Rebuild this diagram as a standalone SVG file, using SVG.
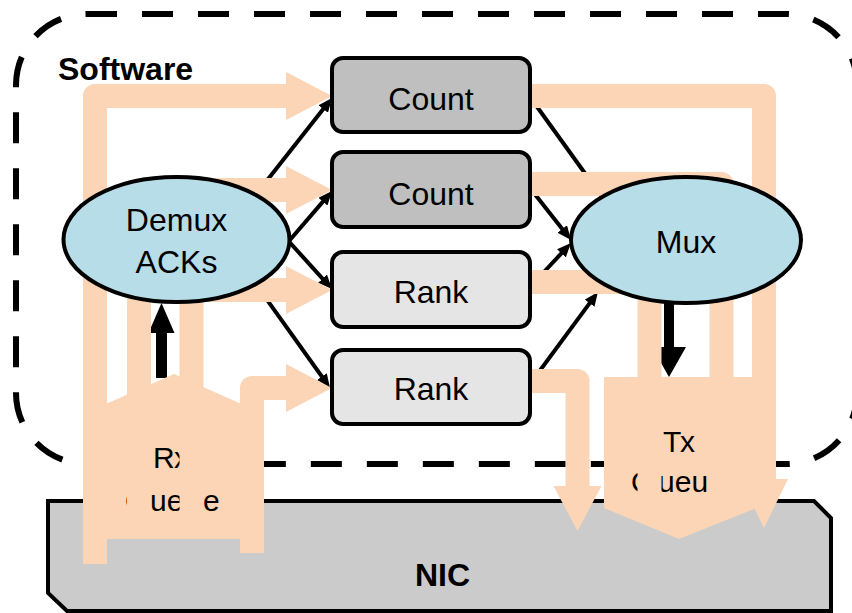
<svg xmlns="http://www.w3.org/2000/svg" width="852" height="613" viewBox="0 0 852 613">
  <defs>
    <style>
      .border{fill:none;stroke:#000;stroke-width:6;stroke-dasharray:31 25}
      .nic{fill:#cbcbcb;stroke:#000;stroke-width:4}
      .box{stroke:#000;stroke-width:4}
      .count{fill:#bfbfbf}
      .rank{fill:#e5e5e5}
      .ell{fill:#b7dde8;stroke:#000;stroke-width:4}
      .txt{font-family:"Liberation Sans",Arial,sans-serif;font-size:32px;fill:#000}
      .mid{text-anchor:middle}
      .ql{font-size:30px}
      .bold{font-weight:bold}
      .link{fill:none;stroke:#000;stroke-width:4}
      .thick{fill:#000}
      .flow{fill:none;stroke:#fbd5b5;stroke-width:24;stroke-linejoin:round}
      .flowfill{fill:#fbd5b5}
    </style>
    <marker id="ah" markerUnits="userSpaceOnUse" viewBox="0 0 14 12" markerWidth="14" markerHeight="12" refX="6" refY="6" orient="auto">
      <path d="M0,0 L14,6 L0,12 z" fill="#000"/>
    </marker>
  </defs>
  <rect width="852" height="613" fill="#fff"/>

  <!-- software region: dashed rounded outline, drawn in two runs -->
  <g id="software">
    <path class="border" stroke-dashoffset="1" d="M87,14 H786 A71,71 0 0 1 857,85 V393"/>
    <path class="border" stroke-dashoffset="4.5" d="M857,393 A71,71 0 0 1 786,464 H87 A71,71 0 0 1 16,393 V85 A71,71 0 0 1 87,14"/>
    <text class="txt bold" x="58" y="80">Software</text>
  </g>

  <!-- NIC -->
  <g id="nic">
    <polygon class="nic" points="48,501 814,501 831,518 831,611 67,611 48,593"/>
    <text class="txt bold mid" x="442.5" y="586" font-size="30">NIC</text>
  </g>

  <!-- control connectors -->
  <g id="connectors">
    <line class="link" x1="250" y1="202" x2="327" y2="104.3" marker-end="url(#ah)"/>
    <line class="link" x1="283" y1="248" x2="326.8" y2="197.1" marker-end="url(#ah)"/>
    <line class="link" x1="283" y1="235" x2="326.6" y2="283.1" marker-end="url(#ah)"/>
    <line class="link" x1="250" y1="276" x2="325.4" y2="381.5" marker-end="url(#ah)"/>
    <line class="link" x1="530" y1="97" x2="615" y2="215"/>
    <line class="link" x1="530" y1="188" x2="566" y2="233.7" marker-end="url(#ah)"/>
    <line class="link" x1="530" y1="287" x2="565.5" y2="248.9" marker-end="url(#ah)"/>
    <line class="link" x1="530" y1="384" x2="593.2" y2="298.4" marker-end="url(#ah)"/>
    <!-- queue to/from ellipse arrows -->
    <polygon class="thick" points="156,378 156,333 148.5,333 161.5,303 174.5,333 167,333 167,378"/>
    <polygon class="thick" points="664,302 674,302 674,347 686,347 669,377 652,347 664,347"/>
  </g>

  <!-- receive queue -->
  <g id="rx-queue">
    <polygon class="flowfill" points="83,414 174,374 264,414 264,539 83,539"/>
    <text class="txt ql" x="153 174" y="468">Rx</text>
    <text class="txt ql" x="125 150 166.7 184 203" y="511">Queue</text>
  </g>

  <!-- transmit queue -->
  <g id="tx-queue">
    <polygon class="flowfill" points="604,377 754,377 754,509 679,539 604,508"/>
    <text class="txt ql" x="663 680" y="452">Tx</text>
    <text class="txt ql" x="631 658 674.7 691.4 710" y="492">Queue</text>
  </g>

  <!-- packet data paths -->
  <g id="data-paths">
    <path class="flow" d="M95,564 V96 H288"/>
    <polygon class="flowfill" points="286,72 332,96 286,120"/>
    <path class="flow" d="M139,539 V190 H288"/>
    <polygon class="flowfill" points="286,166 332,190 286,214"/>
    <path class="flow" d="M191.5,539 V290 H288"/>
    <polygon class="flowfill" points="286,266 332,290 286,314"/>
    <path class="flow" d="M252,553 V388 H288"/>
    <polygon class="flowfill" points="286,364 332,388 286,412"/>

    <path class="flow" d="M530,96 H764 V481"/>
    <polygon class="flowfill" points="740,479 788,479 764,528"/>
    <path class="flow" d="M530,184 H721.5 V508"/>
    <path class="flow" d="M530,282 H649.5 V508"/>
    <path class="flow" d="M530,381 H577.5 V488"/>
    <polygon class="flowfill" points="553.5,486 601.5,486 577.5,531"/>
  </g>

  <g id="demux">
    <ellipse class="ell" cx="176.5" cy="239.5" rx="113" ry="62.5"/>
    <text class="txt mid" x="176.5" y="231" font-size="31">Demux</text>
    <text class="txt mid" x="176.5" y="273" font-size="31">ACKs</text>
  </g>

  <g id="mux">
    <ellipse class="ell" cx="686" cy="240" rx="115" ry="63"/>
    <text class="txt mid" x="686" y="253" font-size="31">Mux</text>
  </g>

  <g id="count-1">
    <rect class="box count" x="332" y="58" width="198" height="74" rx="11"/>
    <text class="txt mid" x="431" y="110">Count</text>
  </g>
  <g id="count-2">
    <rect class="box count" x="332" y="152" width="198" height="75" rx="11"/>
    <text class="txt mid" x="431" y="205">Count</text>
  </g>
  <g id="rank-1">
    <rect class="box rank" x="332" y="252" width="198" height="75" rx="11"/>
    <text class="txt mid" x="431" y="303">Rank</text>
  </g>
  <g id="rank-2">
    <rect class="box rank" x="332" y="350" width="198" height="74" rx="11"/>
    <text class="txt mid" x="431" y="400">Rank</text>
  </g>
</svg>
